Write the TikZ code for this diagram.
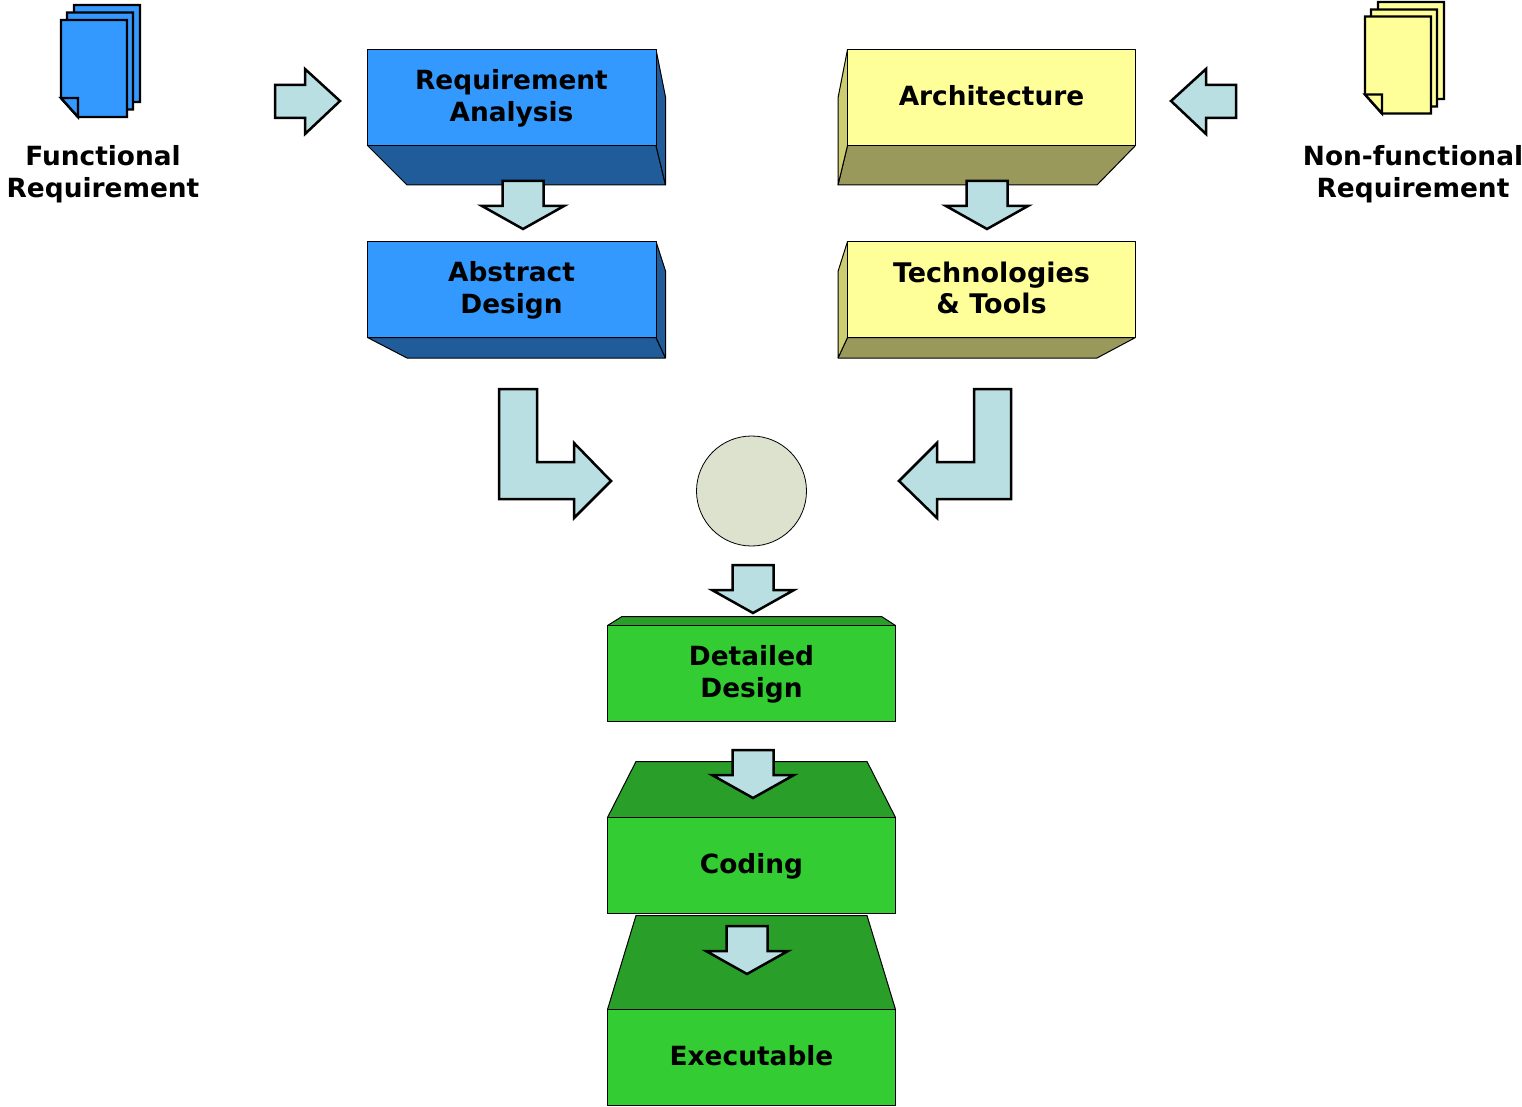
\documentclass[tikz,border=0pt]{standalone}
\usepackage{fontspec}
\setmainfont{DejaVu Sans}
\definecolor{bluef}{HTML}{3399FF}
\definecolor{blued}{HTML}{1F5C99}
\definecolor{yelf}{HTML}{FFFF99}
\definecolor{yeld}{HTML}{99995C}
\definecolor{yels}{HTML}{CCCC70}
\definecolor{grnf}{HTML}{33CC33}
\definecolor{grnd}{HTML}{299F29}
\definecolor{arrowf}{HTML}{B9DFE3}
\definecolor{circf}{HTML}{DDE2CE}
\tikzset{
  face/.style={draw=black,line width=1pt,line join=bevel},
  bigarrow/.style={draw=black,fill=arrowf,line width=2.5pt,line join=miter,miter limit=6},
  sheet/.style={draw=black,line width=2.4pt,line join=miter,miter limit=6},
  label/.style={font=\fontsize{26.4}{31.8}\selectfont\bfseries,align=center,text=black,inner sep=0pt}
}
% centre x, top y
\newcommand{\dnarrow}[2]{%
  \draw[bigarrow,shift={(#1,#2)}] (-20.5,0) -- (20.5,0) -- (20.5,25) -- (41,25) -- (0,48) -- (-41,25) -- (-20.5,25) -- cycle;}
% left, top, fill
\newcommand{\docsheet}[3]{%
  \draw[sheet,fill=#3,shift={(#1,#2)}] (0,0) -- (66,0) -- (66,97) -- (17,97) -- (0,78) -- cycle;}
\newcommand{\docfold}[3]{%
  \draw[sheet,fill=#3,shift={(#1,#2)}] (0,78) -- (17,78) -- (17,97) -- cycle;}
\begin{document}
\begin{tikzpicture}[x=1pt,y=-1pt]
\useasboundingbox (0,0) rectangle (1522,1107);

% document stacks
\docsheet{74}{5}{bluef}
\docsheet{67}{12.5}{bluef}
\docsheet{61}{20}{bluef}
\docfold{61}{20}{bluef}
\docsheet{1378}{2}{yelf}
\docsheet{1371}{9.5}{yelf}
\docsheet{1365}{16.5}{yelf}
\docfold{1365}{16.5}{yelf}

% Requirement Analysis
\draw[face,fill=blued] (367.5,145.5) -- (656,145.5) -- (665.5,185) -- (407,185) -- cycle;
\draw[face,fill=blued] (656,49.5) -- (665.5,97) -- (665.5,185) -- (656,145.5) -- cycle;
\draw[face,fill=bluef] (367.5,49.5) rectangle (656,145.5);
% Abstract Design
\draw[face,fill=blued] (367.5,337.5) -- (656,337.5) -- (665.5,358) -- (407,358) -- cycle;
\draw[face,fill=blued] (656,241.5) -- (665.5,271) -- (665.5,358) -- (656,337.5) -- cycle;
\draw[face,fill=bluef] (367.5,241.5) rectangle (656,337.5);
% Architecture
\draw[face,fill=yeld] (847.5,145.5) -- (1135.5,145.5) -- (1097,185) -- (838,185) -- cycle;
\draw[face,fill=yels] (847.5,49.5) -- (838,98) -- (838,185) -- (847.5,145.5) -- cycle;
\draw[face,fill=yelf] (847.5,49.5) rectangle (1135.5,145.5);
% Technologies
\draw[face,fill=yeld] (847.5,337.5) -- (1135.5,337.5) -- (1097,358) -- (838,358) -- cycle;
\draw[face,fill=yels] (847.5,241.5) -- (838,271.5) -- (838,358) -- (847.5,337.5) -- cycle;
\draw[face,fill=yelf] (847.5,241.5) rectangle (1135.5,337.5);
% Detailed Design
\draw[face,fill=grnd] (607.5,625.5) -- (622,616.5) -- (881.5,616.5) -- (895.5,625.5) -- cycle;
\draw[face,fill=grnf] (607.5,625.5) rectangle (895.5,721.5);
% Coding
\draw[face,fill=grnd] (607.5,817.5) -- (636,761.5) -- (867,761.5) -- (895.5,817.5) -- cycle;
\draw[face,fill=grnf] (607.5,817.5) rectangle (895.5,913.5);
% Executable
\draw[face,fill=grnd] (607.5,1009.5) -- (636,915.5) -- (867,915.5) -- (895.5,1009.5) -- cycle;
\draw[face,fill=grnf] (607.5,1009.5) rectangle (895.5,1105.5);

% circle
\node[draw=black,line width=0.8pt,fill=circf,circle,minimum size=110pt,inner sep=0pt] (hub) at (751.5,491) {};

% block arrows
\draw[bigarrow] (275,85) -- (305,85) -- (305,69) -- (340,101) -- (305,134) -- (305,118) -- (275,118) -- cycle;
\draw[bigarrow] (1236,85) -- (1206,85) -- (1206,69) -- (1171,101) -- (1206,134) -- (1206,118) -- (1236,118) -- cycle;
\dnarrow{523}{181}
\dnarrow{987}{181}
\draw[bigarrow] (499,389) -- (537,389) -- (537,462) -- (574,462) -- (574,443) -- (611,481) -- (574,518) -- (574,499) -- (499,499) -- cycle;
\draw[bigarrow] (1011,389) -- (974,389) -- (974,462) -- (937,462) -- (937,443) -- (899,481) -- (937,518) -- (937,499) -- (1011,499) -- cycle;
\dnarrow{753}{565}
\dnarrow{753}{750}
\dnarrow{747}{926}

% labels
\node[label] (functional) at (103,174.5) {Functional\\Requirement};
\node[label] (nonfunctional) at (1413,174.5) {Non-functional\\Requirement};
\node[label] (reqan) at (511.5,98.5) {Requirement\\Analysis};
\node[label] (absdes) at (511.5,290) {Abstract\\Design};
\node[label] (arch) at (991.5,96) {Architecture};
\node[label,font=\fontsize{27}{31.8}\selectfont\bfseries] (tech) at (991.5,288) {Technologies\\\& Tools};
\node[label] (detail) at (751.5,674) {Detailed\\Design};
\node[label] (coding) at (751.5,866) {Coding};
\node[label] (exec) at (751.5,1056) {Executable};
\end{tikzpicture}
\end{document}
